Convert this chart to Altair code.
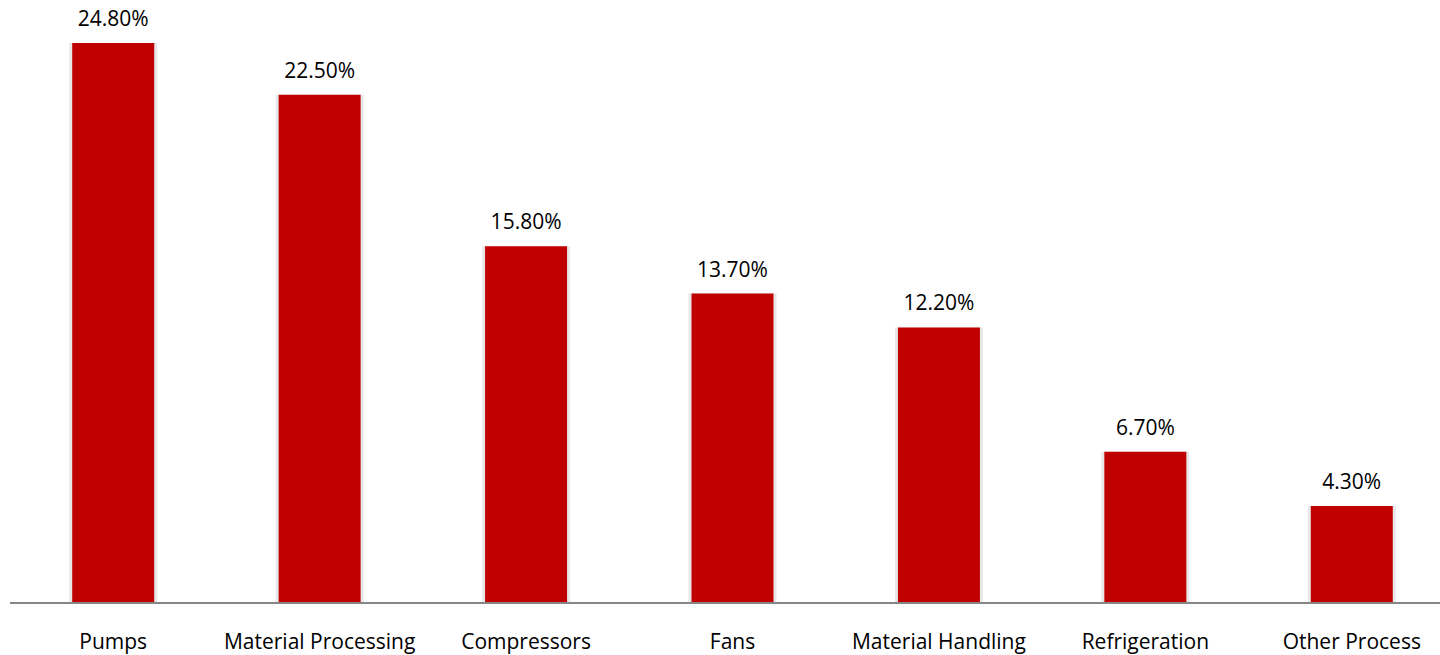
import altair as alt
import pandas as pd

# Share of motor-driven energy use by application
categories = ["Pumps", "Material Processing", "Compressors", "Fans",
              "Material Handling", "Refrigeration", "Other Process"]
shares = [24.8, 22.5, 15.8, 13.7, 12.2, 6.7, 4.3]

df = pd.DataFrame({"category": categories, "share": shares})

FONT = "Open Sans"
RED = "#C00000"
YMAX = 26.7

x = alt.X(
    "category:N",
    sort=categories,
    title=None,
    scale=alt.Scale(paddingInner=0.6, paddingOuter=0.3, range=[0, 1445]),
    axis=alt.Axis(
        domain=False, ticks=False, labelAngle=0, labelFontSize=21,
        labelFont=FONT, labelColor="#000000", labelPadding=28, labelLimit=400,
    ),
)
y = alt.Y("share:Q", title=None, axis=None,
          scale=alt.Scale(domain=[0, YMAX], nice=False, zero=True))

base = alt.Chart(df).encode(x=x, y=y)

# soft grey edge around each bar
halo = base.mark_bar(color="#d9d9d9", opacity=0.6, size=88)
bars = base.mark_bar(color=RED, size=82)

labels = base.transform_calculate(
    label="format(datum.share, '.2f') + '%'"
).mark_text(
    font=FONT, fontSize=21, color="#000000", baseline="alphabetic", dy=-17
).encode(text="label:N")

baseline = alt.Chart(pd.DataFrame({"v": [0]})).mark_rule(
    color="#868686", strokeWidth=2
).encode(y=alt.Y("v:Q", scale=alt.Scale(domain=[0, YMAX], nice=False)),
         x=alt.value(0), x2=alt.value(1430))

chart = alt.layer(halo, bars, labels, baseline).properties(
    width=1430, height=603, background="#ffffff",
    autosize=alt.AutoSizeParams(type="none"),
    padding={"left": 10, "top": 0, "right": 0, "bottom": 52},
).configure_view(stroke=None)

chart.save("out.html", embed_options={"renderer": "svg", "actions": False})
